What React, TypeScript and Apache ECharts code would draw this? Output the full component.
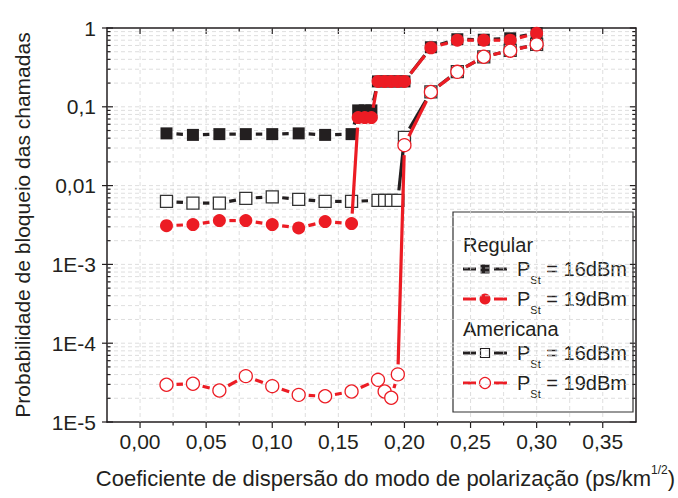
import React, { useEffect, useRef } from 'react';
import * as echarts from 'echarts';

// ---- data ----
const xRegular = [0.02, 0.04, 0.06, 0.08, 0.10, 0.12, 0.14, 0.16, 0.165, 0.17, 0.175, 0.18, 0.185, 0.19, 0.195, 0.20, 0.22, 0.24, 0.26, 0.28, 0.30];
const regular16 = [0.046, 0.044, 0.045, 0.045, 0.045, 0.046, 0.044, 0.045, 0.09, 0.09, 0.09, 0.21, 0.21, 0.21, 0.21, 0.21, 0.57, 0.72, 0.71, 0.74, 0.86];
const regular19 = [0.0031, 0.0032, 0.0036, 0.0036, 0.0032, 0.0029, 0.0035, 0.0033, 0.073, 0.073, 0.073, 0.21, 0.21, 0.21, 0.21, 0.21, 0.56, 0.70, 0.70, 0.70, 0.86];
const xAmericana = [0.02, 0.04, 0.06, 0.08, 0.10, 0.12, 0.14, 0.16, 0.18, 0.185, 0.19, 0.195, 0.20, 0.22, 0.24, 0.26, 0.28, 0.30];
const americana16 = [0.0063, 0.0060, 0.0060, 0.0069, 0.0072, 0.0067, 0.0063, 0.0063, 0.0065, 0.0065, 0.0065, 0.0065, 0.041, 0.155, 0.28, 0.43, 0.52, 0.62];
const americana19 = [2.97e-5, 3.06e-5, 2.51e-5, 3.82e-5, 2.85e-5, 2.21e-5, 2.12e-5, 2.44e-5, 3.43e-5, 2.44e-5, 2.03e-5, 4.02e-5, 0.0326, 0.154, 0.278, 0.432, 0.515, 0.62];

// ---- axes / ticks ----
const X_MIN = -0.025;
const X_MAX = 0.375;
const Y_MIN = 1e-5;
const Y_MAX = 1;
const xMajorTicks = [0, 0.05, 0.10, 0.15, 0.20, 0.25, 0.30, 0.35];
const xMinorTicks = [0.025, 0.075, 0.125, 0.175, 0.225, 0.275, 0.325];
const yDecades = [1e-5, 1e-4, 1e-3, 1e-2, 1e-1, 1];
const yMinorMantissas = [2, 3, 4, 5, 6, 7, 8, 9];
const yTickLabels: Record<string, string> = { '0': '1', '-1': '0,1', '-2': '0,01', '-3': '1E-3', '-4': '1E-4', '-5': '1E-5' };

const FONT = "'Liberation Sans', Arial, Helvetica, sans-serif";
const INK = '#231f20';
const RED = '#ec1c24';
const GRID = '#d6d6d6';
const GAP = 10;

function segmentSeries(name: string, xs: number[], ys: number[], color: string, z: number) {
  const pts = xs.map((x, i) => [x, ys[i]]);
  return {
    type: 'custom',
    name,
    coordinateSystem: 'cartesian2d',
    z,
    silent: true,
    clip: false,
    data: pts.slice(0, -1).map((p, i) => [p[0], p[1], i]),
    encode: { x: 0, y: 1 },
    renderItem: (params: any, api: any) => {
      const i = params.dataIndex;
      const a = api.coord(pts[i]);
      const b = api.coord(pts[i + 1]);
      const dx = b[0] - a[0];
      const dy = b[1] - a[1];
      const L = Math.hypot(dx, dy);
      if (L <= 2 * GAP + 1) return { type: 'group', children: [] };
      const ux = dx / L;
      const uy = dy / L;
      return {
        type: 'line',
        shape: { x1: a[0] + ux * GAP, y1: a[1] + uy * GAP, x2: b[0] - ux * GAP, y2: b[1] - uy * GAP },
        style: { stroke: color, lineWidth: 3.2 },
      };
    },
  };
}

function symbolSeries(name: string, xs: number[], ys: number[], symbol: string, size: number, fill: string, border: string, z: number) {
  return {
    type: 'scatter',
    name,
    z,
    silent: true,
    symbol,
    symbolSize: size,
    data: xs.map((x, i) => [x, ys[i]]),
    itemStyle: { color: fill, borderColor: border, borderWidth: fill === '#ffffff' ? 1.3 : 0, opacity: 1 },
  };
}

function frameSeries() {
  const items: number[][] = [];
  xMajorTicks.forEach((v) => items.push([v, Y_MIN, 0]));
  xMinorTicks.forEach((v) => items.push([v, Y_MIN, 1]));
  yDecades.forEach((v) => items.push([X_MIN, v, 2]));
  yDecades.slice(0, -1).forEach((d) => yMinorMantissas.forEach((m) => items.push([X_MIN, m * d, 3])));
  const tickStyle = { stroke: INK, lineWidth: 1.2 };
  const gridStyle = { stroke: GRID, lineWidth: 0.8, lineDash: [4, 3] };
  return {
    type: 'custom',
    coordinateSystem: 'cartesian2d',
    z: 1,
    silent: true,
    clip: false,
    data: items,
    encode: { x: 0, y: 1 },
    renderItem: (params: any, api: any) => {
      const kind = api.value(2);
      const children: any[] = [];
      if (kind <= 1) {
        const v = api.value(0);
        const b = api.coord([v, Y_MIN]);
        const t = api.coord([v, Y_MAX]);
        const len = kind === 0 ? 6 : 3.5;
        children.push({ type: 'line', shape: { x1: b[0], y1: t[1], x2: b[0], y2: b[1] }, style: gridStyle });
        children.push({ type: 'line', shape: { x1: b[0], y1: b[1], x2: b[0], y2: b[1] + len }, style: tickStyle });
        children.push({ type: 'line', shape: { x1: t[0], y1: t[1], x2: t[0], y2: t[1] + len }, style: tickStyle });
      } else {
        const v = api.value(1);
        const l = api.coord([X_MIN, v]);
        const r = api.coord([X_MAX, v]);
        const major = kind === 2;
        const len = major ? 6 : 3.5;
        if (!(v === Y_MIN || v === Y_MAX)) {
          children.push({ type: 'line', shape: { x1: l[0], y1: l[1], x2: r[0], y2: r[1] }, style: gridStyle });
        }
        children.push({ type: 'line', shape: { x1: l[0] - (major ? 5 : 0), y1: l[1], x2: l[0] + len, y2: l[1] }, style: tickStyle });
        children.push({ type: 'line', shape: { x1: r[0], y1: r[1], x2: r[0] - len, y2: r[1] }, style: tickStyle });
      }
      return { type: 'group', children };
    },
  };
}

function legendRow(y: number, color: string, symbol: 'rect' | 'circle', filled: boolean, label: string) {
  const els: any[] = [
    { type: 'line', shape: { x1: 463, y1: y, x2: 476, y2: y }, style: { stroke: color, lineWidth: 3 } },
    { type: 'line', shape: { x1: 494, y1: y, x2: 507, y2: y }, style: { stroke: color, lineWidth: 3 } },
  ];
  const fill = filled ? color : '#ffffff';
  const stroke = symbol === 'rect' ? (filled ? color : INK) : color;
  if (symbol === 'rect') {
    els.push({ type: 'rect', shape: { x: 480.5, y: y - 4.5, width: 9, height: 9 }, style: { fill, stroke, lineWidth: filled ? 0 : 1.2 } });
  } else {
    els.push({ type: 'circle', shape: { cx: 485, cy: y, r: 5.5 }, style: { fill, stroke, lineWidth: filled ? 0 : 1.2 } });
  }
  els.push({
    type: 'text',
    x: 517,
    y,
    style: {
      text: `{p|P}{s|St}{p| = ${label}}`,
      verticalAlign: 'middle',
      align: 'left',
      fill: INK,
      fontFamily: FONT,
      fontSize: 20,
      rich: {
        p: { fontSize: 20, lineHeight: 32, fontFamily: FONT, fill: INK, verticalAlign: 'middle' },
        s: { fontSize: 11, lineHeight: 12, fontFamily: FONT, fill: INK, verticalAlign: 'bottom' },
      },
    },
  });
  return els;
}

export default function App() {
  const ref = useRef<HTMLDivElement>(null);
  useEffect(() => {
    if (!ref.current) return;
    const chart = echarts.init(ref.current, undefined, { renderer: 'svg' });
    const option: any = {
      animation: false,
      backgroundColor: '#ffffff',
      textStyle: { fontFamily: FONT },
      grid: { left: 107, right: 37, top: 28, bottom: 76, containLabel: false },
      xAxis: [
        {
          type: 'value',
          position: 'bottom',
          min: X_MIN,
          max: X_MAX,
          interval: 0.025,
          axisLine: { show: true, onZero: false, lineStyle: { color: INK, width: 1.5 } },
          axisTick: { show: false },
          splitLine: { show: false },
          axisLabel: {
            fontSize: 21,
            color: INK,
            fontFamily: FONT,
            margin: 9,
            formatter: (v: number) => {
              const k = Math.round(v / 0.025);
              if (k < 0 || k % 2 !== 0) return '';
              return (k * 0.025).toFixed(2).replace('.', ',');
            },
          },
          name: '{a|Coeficiente de dispersão do modo de polarização (ps/km}{b|1/2}{a|)}',
          nameLocation: 'middle',
          nameGap: 42,
          nameTextStyle: {
            padding: [0, 0, 0, 28],
            rich: {
              a: { fontSize: 22, lineHeight: 28, fontFamily: FONT, color: INK, verticalAlign: 'middle' },
              b: { fontSize: 12, lineHeight: 12, fontFamily: FONT, color: INK, verticalAlign: 'top' },
            },
          },
        },
        {
          type: 'value',
          position: 'top',
          min: X_MIN,
          max: X_MAX,
          interval: 0.025,
          axisLine: { show: true, onZero: false, lineStyle: { color: INK, width: 1.5 } },
          axisTick: { show: false },
          axisLabel: { show: false },
          splitLine: { show: false },
        },
      ],
      yAxis: [
        {
          type: 'log',
          logBase: 10,
          min: Y_MIN,
          max: Y_MAX,
          position: 'left',
          axisLine: { show: true, onZero: false, lineStyle: { color: INK, width: 1.5 } },
          axisTick: { show: false },
          splitLine: { show: false },
          minorSplitLine: { show: false },
          axisLabel: {
            fontSize: 21,
            color: INK,
            fontFamily: FONT,
            margin: 11,
            formatter: (v: number) => yTickLabels[String(Math.round(Math.log10(v)))] ?? '',
          },
          name: 'Probabilidade de bloqueio das chamadas',
          nameLocation: 'middle',
          nameGap: 74,
          nameTextStyle: { fontSize: 21, color: INK, fontFamily: FONT },
        },
        {
          type: 'log',
          logBase: 10,
          min: Y_MIN,
          max: Y_MAX,
          position: 'right',
          axisLine: { show: true, onZero: false, lineStyle: { color: INK, width: 1.5 } },
          axisTick: { show: false },
          axisLabel: { show: false },
          splitLine: { show: false },
        },
      ],
      series: [
        frameSeries(),
        segmentSeries('Regular 16dBm', xRegular, regular16, INK, 2),
        symbolSeries('Regular 16dBm', xRegular, regular16, 'rect', 12, INK, INK, 3),
        segmentSeries('Americana 16dBm', xAmericana, americana16, INK, 4),
        symbolSeries('Americana 16dBm', xAmericana, americana16, 'rect', 12, '#ffffff', '#333333', 5),
        segmentSeries('Regular 19dBm', xRegular, regular19, RED, 6),
        symbolSeries('Regular 19dBm', xRegular, regular19, 'circle', 13, RED, RED, 7),
        segmentSeries('Americana 19dBm', xAmericana, americana19, RED, 8),
        symbolSeries('Americana 19dBm', xAmericana, americana19, 'circle', 13, '#ffffff', RED, 9),
      ],
      graphic: [
        {
          type: 'group',
          z: 100,
          children: [
            { type: 'rect', shape: { x: 453, y: 212, width: 180, height: 200 }, style: { fill: '#ffffff', stroke: '#333333', lineWidth: 1.2 } },
            { type: 'text', x: 463, y: 245, style: { text: 'Regular', fontSize: 20, fontFamily: FONT, fill: INK, verticalAlign: 'middle', align: 'left' } },
            ...legendRow(269, INK, 'rect', true, '16dBm'),
            ...legendRow(299, RED, 'circle', true, '19dBm'),
            { type: 'text', x: 463, y: 329, style: { text: 'Americana', fontSize: 20, fontFamily: FONT, fill: INK, verticalAlign: 'middle', align: 'left' } },
            ...legendRow(353, INK, 'rect', false, '16dBm'),
            ...legendRow(383, RED, 'circle', false, '19dBm'),
          ],
        },
      ],
    };
    chart.setOption(option);
    return () => chart.dispose();
  }, []);
  return <div ref={ref} style={{ width: 678, height: 498, position: 'absolute', left: 0, top: 0 }} />;
}
